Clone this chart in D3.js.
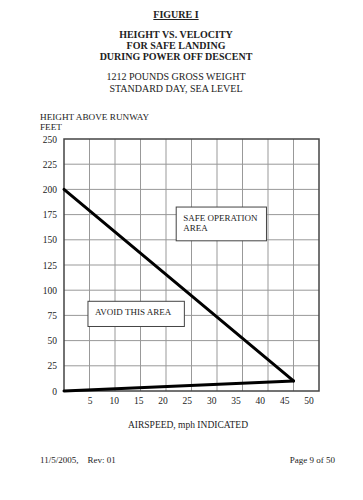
<!DOCTYPE html>
<html>
<head>
<meta charset="utf-8">
<script src="https://cdn.jsdelivr.net/npm/d3@7"></script>
<style>
  body { margin: 0; background: #fff; }
  svg text { font-family: "Liberation Serif", "DejaVu Serif", serif; fill: #222; }
</style>
</head>
<body>
<div id="chart"></div>
<script>
'use strict';

// chart data
var titleLines = ['HEIGHT VS. VELOCITY', 'FOR SAFE LANDING', 'DURING POWER OFF DESCENT'],
    subtitleLines = ['1212 POUNDS GROSS WEIGHT', 'STANDARD DAY, SEA LEVEL'],
    xTicks = [5, 10, 15, 20, 25, 30, 35, 40, 45, 50],
    yTicks = [0, 25, 50, 75, 100, 125, 150, 175, 200, 225, 250],
    // boundary curve, airspeed (mph) vs height (feet)
    upperAirspeed = [0, 45],
    upperHeight = [200, 10],
    lowerAirspeed = [0, 45],
    lowerHeight = [0, 10],
    notes = [
      {lines: ['SAFE OPERATION', 'AREA'], x0: 22, x1: 39.7, y0: 182.5, y1: 149},
      {lines: ['AVOID THIS AREA'], x0: 4.7, x1: 23.6, y0: 89, y1: 64}
    ];

var width = 363,
    height = 500,
    plotLeft = 64,
    plotRight = 319,
    plotTop = 139,
    plotBottom = 391;

var svg = d3.select('#chart').append('svg')
    .attr('width', width)
    .attr('height', height)
    .attr('viewBox', '0 0 ' + width + ' ' + height);

var x = d3.scaleLinear().domain([0, 50]).range([plotLeft, plotRight]),
    y = d3.scaleLinear().domain([0, 250]).range([plotBottom, plotTop]),
    // printed tick labels drift left of the grid lines in the original
    xLabel = d3.scaleLinear().domain([5, 50]).range([x(5) + 0.5, x(50) - 10]);

// header
svg.append('text')
    .attr('x', 176)
    .attr('y', 18)
    .attr('text-anchor', 'middle')
    .style('font-size', '10px')
    .style('font-weight', 'bold')
    .style('text-decoration', 'underline')
    .text('FIGURE I');

titleLines.forEach(function (t, i) {
  svg.append('text')
      .attr('x', 176)
      .attr('y', 38 + i * 11)
      .attr('text-anchor', 'middle')
      .style('font-size', '10px')
      .style('font-weight', 'bold')
      .text(t);
});

subtitleLines.forEach(function (t, i) {
  svg.append('text')
      .attr('x', 176)
      .attr('y', 80 + i * 12)
      .attr('text-anchor', 'middle')
      .style('font-size', '10px')
      .text(t);
});

svg.append('text')
    .attr('x', 40)
    .attr('y', 120)
    .style('font-size', '9.2px')
    .text('HEIGHT ABOVE RUNWAY');
svg.append('text')
    .attr('x', 40)
    .attr('y', 130)
    .style('font-size', '9.2px')
    .text('FEET');

// grid
var grid = svg.append('g').attr('class', 'grid');
grid.selectAll('line.v')
    .data(xTicks.slice(0, -1))
    .enter().append('line')
    .attr('x1', function (d) { return x(d); })
    .attr('x2', function (d) { return x(d); })
    .attr('y1', plotTop)
    .attr('y2', plotBottom)
    .attr('stroke', '#999')
    .attr('stroke-width', 1);
grid.selectAll('line.h')
    .data(yTicks.slice(1, -1))
    .enter().append('line')
    .attr('x1', plotLeft)
    .attr('x2', plotRight)
    .attr('y1', function (d) { return y(d); })
    .attr('y2', function (d) { return y(d); })
    .attr('stroke', '#999')
    .attr('stroke-width', 1);

// frame
svg.append('rect')
    .attr('x', plotLeft)
    .attr('y', plotTop)
    .attr('width', plotRight - plotLeft)
    .attr('height', plotBottom - plotTop)
    .attr('fill', 'none')
    .attr('stroke', '#444')
    .attr('stroke-width', 1.5);

// tick labels
svg.selectAll('text.ytick')
    .data(yTicks)
    .enter().append('text')
    .attr('class', 'ytick')
    .attr('x', plotLeft - 7)
    .attr('y', function (d) { return y(d) + 3.5; })
    .attr('text-anchor', 'end')
    .style('font-size', '9.5px')
    .text(function (d) { return d; });

svg.selectAll('text.xtick')
    .data(xTicks)
    .enter().append('text')
    .attr('class', 'xtick')
    .attr('x', function (d) { return xLabel(d); })
    .attr('y', plotBottom + 13)
    .attr('text-anchor', 'middle')
    .style('font-size', '9.5px')
    .text(function (d) { return d; });

svg.append('text')
    .attr('x', 188)
    .attr('y', 428)
    .attr('text-anchor', 'middle')
    .style('font-size', '9.5px')
    .text('AIRSPEED, mph INDICATED');

// boundary lines
var line = d3.line()
    .x(function (d) { return x(d[0]); })
    .y(function (d) { return y(d[1]); });

[[upperAirspeed, upperHeight], [lowerAirspeed, lowerHeight]].forEach(function (s) {
  svg.append('path')
      .datum(d3.zip(s[0], s[1]))
      .attr('d', line)
      .attr('fill', 'none')
      .attr('stroke', '#000')
      .attr('stroke-width', 3)
      .attr('stroke-linecap', 'round')
      .attr('stroke-linejoin', 'round');
});

// note boxes
notes.forEach(function (n) {
  var g = svg.append('g');
  g.append('rect')
      .attr('x', x(n.x0))
      .attr('y', y(n.y0))
      .attr('width', x(n.x1) - x(n.x0))
      .attr('height', y(n.y1) - y(n.y0))
      .attr('fill', '#fff')
      .attr('stroke', '#444')
      .attr('stroke-width', 1);
  n.lines.forEach(function (t, i) {
    g.append('text')
        .attr('x', x(n.x0) + 7)
        .attr('y', y(n.y0) + 14 + i * 10)
        .style('font-size', '9px')
        .text(t);
  });
});

// footer
svg.append('text')
    .attr('x', 40)
    .attr('y', 463)
    .style('font-size', '9px')
    .attr('xml:space', 'preserve')
    .text('11/5/2005,    Rev: 01');
svg.append('text')
    .attr('x', 335)
    .attr('y', 463)
    .attr('text-anchor', 'end')
    .style('font-size', '9px')
    .text('Page 9 of 50');
</script>
</body>
</html>
